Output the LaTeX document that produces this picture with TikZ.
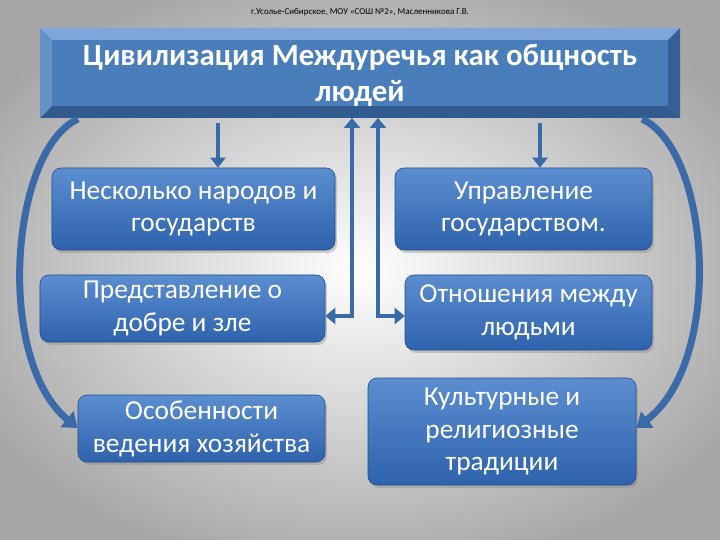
\documentclass[tikz,border=0pt]{standalone}
\usepackage{fontspec}
\setmainfont{Carlito}
\usetikzlibrary{arrows.meta,shadows}
\definecolor{bA}{HTML}{5B8ED0}
\definecolor{bB}{HTML}{2E62AC}
\definecolor{bT}{HTML}{4A7EBB}
\definecolor{bD}{HTML}{3A6AA8}
\definecolor{bL}{HTML}{7FA6D8}
\tikzset{
 box/.style={rounded corners=9pt, top color=bA, bottom color=bB, draw=bB!80!black, line width=0.6pt,
  text=white, align=center, font=\fontsize{27.5}{33}\selectfont, inner sep=0pt,
  drop shadow={shadow xshift=2pt, shadow yshift=-3pt, opacity=0.35}},
 arr/.style={draw=bD, line width=7pt, -{Triangle[width=20pt,length=14pt]}},
 barr/.style={draw=bD, line width=5pt, {Triangle[width=16pt,length=10pt]}-{Triangle[width=16pt,length=10pt]}},
 sarr/.style={draw=bD, line width=5pt, -{Triangle[width=15pt,length=10pt]}}
}
\begin{document}
\begin{tikzpicture}[x=1bp,y=-1bp]
\useasboundingbox (0,0) rectangle (720,540);
\shade[inner color=white, outer color=gray!70] (-80,-40) rectangle (800,580);
\node[font=\fontsize{9}{10}\selectfont] (cap) at (360,12) {г.Усолье-Сибирское, МОУ «СОШ №2», Масленникова Г.В.};
% title bevel
\fill[bL] (40,28) -- (680,28) -- (668,40) -- (52,40) -- cycle;
\fill[bD!85!black] (40,118) -- (680,118) -- (668,106) -- (52,106) -- cycle;
\fill[bT!85!white] (40,28) -- (52,40) -- (52,106) -- (40,118) -- cycle;
\fill[bD!90!black] (680,28) -- (668,40) -- (668,106) -- (680,118) -- cycle;
\fill[bT] (52,40) rectangle (668,106);
\node[text=white, font=\bfseries\fontsize{31}{36}\selectfont, align=center] (title) at (360,75) {Цивилизация Междуречья как общность\\людей};
% boxes
\node[box, minimum width=283bp, minimum height=82bp] (b1) at (193.5,209) {Несколько народов и\\государств};
\node[box, minimum width=257bp, minimum height=82bp] (b2) at (523.5,209) {Управление\\государством.};
\node[box, minimum width=285bp, minimum height=67bp] (b3) at (182.5,308.5) {Представление о\\добре и зле};
\node[box, minimum width=247bp, minimum height=75bp] (b4) at (528.5,312.5) {Отношения между\\людьми};
\node[box, minimum width=247bp, minimum height=67bp] (b5) at (201.5,428.5) {Особенности\\ведения хозяйства};
\node[box, minimum width=268bp, minimum height=107bp] (b6) at (502,431.5) {Культурные и\\религиозные\\традиции};
% small arrows
\coordinate (t1) at (218,123); \coordinate (t2) at (540,123);
\draw[sarr] (t1) -- (b1.north -| t1);
\draw[sarr] (t2) -- (b2.north -| t2);
% bent arrows
\coordinate (c1) at (352,118); \coordinate (c2) at (378,118);
\draw[barr] (b3.east |- 0,316) -- (352,316) -- (c1);
\draw[barr] (b4.west |- 0,316) -- (378,316) -- (c2);
% curved arrows
\coordinate (l0) at (78,119); \coordinate (r0) at (642,119);
\draw[arr] (l0) .. controls (10,150) and (-5,360) .. (b5.west |- 0,428);
\draw[arr] (r0) .. controls (710,150) and (725,360) .. (b6.east |- 0,428);
\end{tikzpicture}
\end{document}
